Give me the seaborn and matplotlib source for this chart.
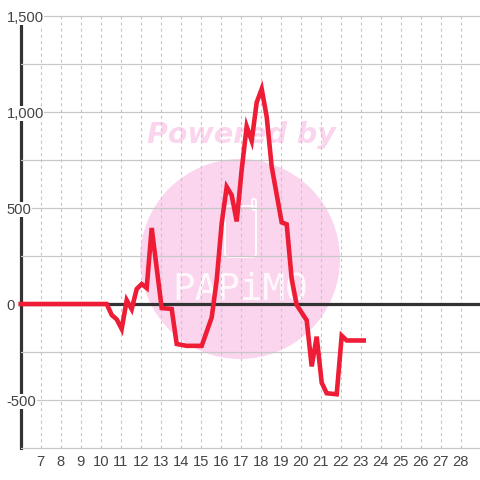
import matplotlib
matplotlib.use("Agg")
import matplotlib.pyplot as plt
from matplotlib.patches import Ellipse, FancyBboxPatch
import pandas as pd
import seaborn as sns

hours = [6.0, 10.3, 10.55, 10.8, 11.05, 11.3, 11.55, 11.8, 12.05, 12.3, 12.55, 13.05,
         13.55, 13.8, 14.3, 15.05, 15.55, 15.8, 16.05, 16.3, 16.55, 16.8, 17.05, 17.3,
         17.55, 17.8, 18.05, 18.3, 18.55, 19.05, 19.3, 19.55, 19.8, 20.3, 20.55, 20.8,
         21.05, 21.3, 21.8, 22.05, 22.3, 23.15]
values = [0, 0, -57, -80, -130, 20, -27, 78, 104, 83, 396, -21,
          -26, -208, -218, -218, -70, 125, 420, 610, 567, 430, 700, 925,
          850, 1050, 1120, 975, 715, 425, 415, 130, -5, -85, -325, -170,
          -410, -465, -470, -165, -190, -190]
x_ticks = list(range(7, 29))
y_major = [-500, 0, 500, 1000, 1500]
y_labels = ["-500", "0", "500", "1,000", "1,500"]
y_grid = [-750, -500, -250, 0, 250, 500, 750, 1000, 1250, 1500]

sns.set_theme(style="white", rc={"font.family": ["Liberation Sans", "DejaVu Sans"]})
df = pd.DataFrame({"hour": hours, "value": values})

fig = plt.figure(figsize=(4.8, 4.8), dpi=100, facecolor="white")
ax = fig.add_axes([20.5 / 480, 32 / 480, 459.5 / 480, 432 / 480])
ax.set_xlim(5.99, 28.965)
ax.set_ylim(-750, 1500)
ax.set_axisbelow(True)

PINK = "#fbd5ee"
ax.add_patch(Ellipse(((240 - 20.5) / 459.5, (448 - 259) / 432), 200 / 459.5, 200 / 432,
                     transform=ax.transAxes, fc=PINK, ec="none", zorder=0.1))
ax.text((241 - 20.5) / 459.5, (448 - 135) / 432, "Powered by", transform=ax.transAxes,
        ha="center", va="center", family="DejaVu Sans", weight="bold", style="oblique",
        fontsize=20.5, color=PINK, zorder=0.2)
ax.add_patch(FancyBboxPatch(((225 - 20.5) / 459.5, (448 - 257) / 432), 31 / 459.5, 51 / 432,
                            boxstyle="round,pad=0,rounding_size=0.008", transform=ax.transAxes,
                            fc="none", ec="white", lw=1.3, zorder=0.2))
ax.add_patch(FancyBboxPatch(((252 - 20.5) / 459.5, (448 - 210) / 432), 4 / 459.5, 11 / 432,
                            boxstyle="round,pad=0,rounding_size=0.004", transform=ax.transAxes,
                            fc="none", ec="white", lw=1.3, zorder=0.2))
ax.text((240 - 20.5) / 459.5, (448 - 289) / 432, "PAPiMO", transform=ax.transAxes,
        ha="center", va="center", family="DejaVu Sans Mono", fontsize=27,
        color="white", alpha=0.85, zorder=0.2)

ax.set_xticks(x_ticks)
ax.grid(False)
for v in y_grid:
    ax.axhline(v, color="#c8c8c8", lw=0.9, zorder=0.5, clip_on=False)
ax.xaxis.grid(True, color="#c4c4c4", lw=0.8, ls=(0, (2.6, 3.0)), zorder=0.5)
ax.set_yticks(y_major, y_labels)
ax.tick_params(axis="x", length=0, pad=5.3, labelsize=10.6, labelcolor="#444444")
ax.tick_params(axis="y", length=0, pad=10, labelsize=10.6, labelcolor="#444444")
for lab in ax.get_yticklabels():
    lab.set_ha("left")
    lab.set_bbox(dict(fc="white", ec="none", pad=0.2))

for s in ["top", "right", "bottom"]:
    ax.spines[s].set_visible(False)
ax.spines["left"].set_color("#333333")
ax.spines["left"].set_linewidth(2.3)
ax.spines["left"].set_zorder(0.45)
ax.axhline(0, color="#333333", lw=2.3, zorder=1)

sns.lineplot(data=df, x="hour", y="value", estimator=None, sort=False, ax=ax,
             color="#ee1c35", lw=3.3, zorder=3, solid_joinstyle="miter",
             solid_capstyle="projecting", clip_on=False)
ax.set_xlabel("")
ax.set_ylabel("")
fig.savefig("out.png", dpi=100, facecolor="white")
